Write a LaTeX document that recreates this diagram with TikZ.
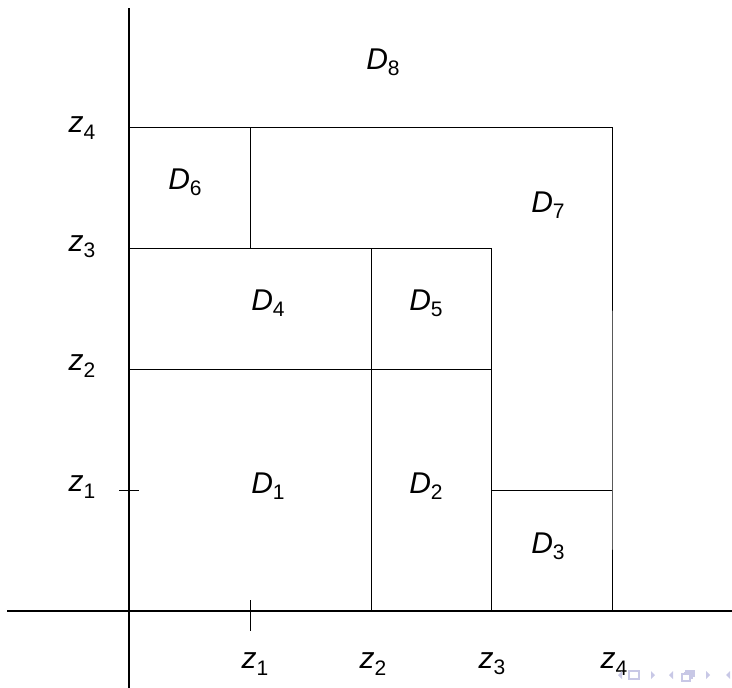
\documentclass[tikz,border=0pt]{standalone}
\usepackage{fontspec}
\setmainfont{Liberation Sans}
\begin{document}
\begin{tikzpicture}[x=1pt,y=-1pt,
  axis/.style={line width=2pt,black},
  grid/.style={line width=1pt,black},
  lab/.style={font=\fontsize{30}{32}\selectfont,inner sep=0pt},
  nav/.style={fill=navcol,draw=none}]
\definecolor{navcol}{RGB}{200,200,230}
\useasboundingbox (0,0) rectangle (732,688);
% named points
\coordinate (O) at (129,611);
\coordinate (ytop) at (129,8);
\coordinate (ybot) at (129,688);
\coordinate (xl) at (7,611);
\coordinate (xr) at (732,611);
\coordinate (a4) at (129,127); \coordinate (b4) at (250,127); \coordinate (d4) at (612,127);
\coordinate (a3) at (129,248); \coordinate (b3) at (250,248); \coordinate (c3) at (371,248); \coordinate (e3) at (491,248);
\coordinate (a2) at (129,369); \coordinate (e2) at (491,369); \coordinate (c2) at (371,369);
\coordinate (e1) at (491,490); \coordinate (d1) at (612,490);
\coordinate (c0) at (371,611); \coordinate (e0) at (491,611); \coordinate (d0) at (612,611);
\coordinate (ty1) at (119,490); \coordinate (ty2) at (139,490);
\coordinate (tx1) at (250,600); \coordinate (tx2) at (250,631);
% grid
\draw[grid] (a4) -- (d4) -- (d1) -- (d0);
\draw[grid] (e1) -- (d1);
\draw[grid] (b4) -- (b3);
\draw[grid] (a3) -- (e3) -- (e0);
\draw[grid] (a2) -- (e2);
\draw[grid] (c3) -- (c0);
% axes
\draw[axis] (ytop) -- (ybot);
\draw[axis] (xl) -- (xr);
\draw[line width=1pt] (ty1) -- (ty2);
\draw[line width=1pt] (tx1) -- (tx2);
% region labels
\newcommand{\reg}[1]{\textit{D}\raisebox{-0.4ex}{\fontsize{21}{23}\selectfont #1}}
\newcommand{\zz}[1]{\textit{z}\raisebox{-0.4ex}{\fontsize{21}{23}\selectfont #1}}
\node[lab] (D8) at (383,62) {\reg{8}};
\node[lab] (D6) at (185,182) {\reg{6}};
\node[lab] (D7) at (548,205) {\reg{7}};
\node[lab] (D4) at (268,303) {\reg{4}};
\node[lab] (D5) at (426,303) {\reg{5}};
\node[lab] (D1) at (268,486) {\reg{1}};
\node[lab] (D2) at (426,486) {\reg{2}};
\node[lab] (D3) at (548,546) {\reg{3}};
% axis labels
\node[lab] (zy4) at (82,128) {\zz{4}};
\node[lab] (zy3) at (82,247) {\zz{3}};
\node[lab] (zy2) at (82,366) {\zz{2}};
\node[lab] (zy1) at (82,487) {\zz{1}};
\node[lab] (zx1) at (255,664) {\zz{1}};
\node[lab] (zx2) at (373,664) {\zz{2}};
\node[lab] (zx3) at (492,664) {\zz{3}};
\node[lab] (zx4) at (614,664) {\zz{4}};
% navigation symbols
\fill[nav] (618,675) -- (622,671) -- (622,679) -- cycle;
\draw[navcol,line width=1.2pt] (629,671) rectangle (639,679);
\fill[nav] (651,671) -- (655,675) -- (651,679) -- cycle;
\fill[nav] (669,675) -- (673,671) -- (673,679) -- cycle;
\draw[navcol,line width=1.2pt] (682,674) rectangle (690,681);
\draw[navcol,line width=1.2pt] (685,671) -- (694,671) -- (694,677);
\draw[navcol,line width=1.2pt] (684,672.5) -- (692,672.5) -- (692,679);
\fill[nav] (706,671) -- (710,675) -- (706,679) -- cycle;
\fill[nav] (726,675) -- (730,671) -- (730,679) -- cycle;
\end{tikzpicture}
\end{document}
